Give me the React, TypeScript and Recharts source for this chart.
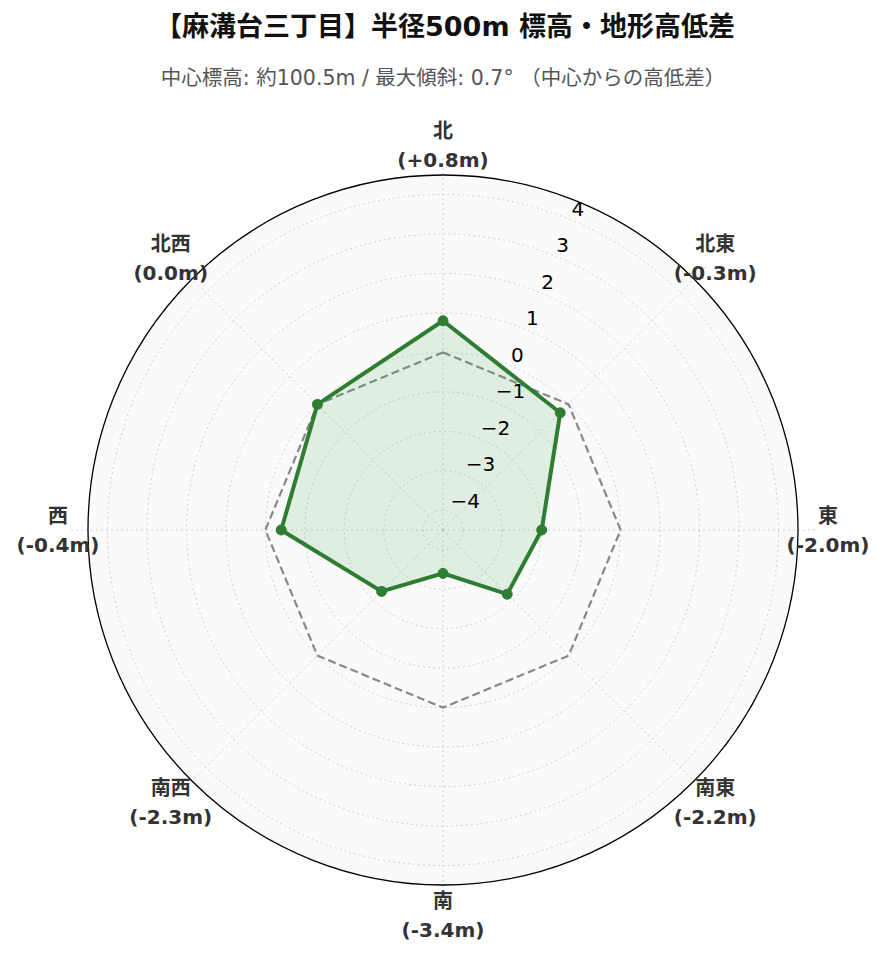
import React from 'react';
import { RadarChart, Radar, PolarGrid, PolarAngleAxis, PolarRadiusAxis } from 'recharts';

const directions = ['北', '北東', '東', '南東', '南', '南西', '西', '北西'];
const elevationDiff = [0.8, -0.3, -2.0, -2.2, -3.4, -2.3, -0.4, 0.0];
const zeroLine = [0, 0, 0, 0, 0, 0, 0, 0];
const radiusTicks = [-4, -3, -2, -1, 0, 1, 2, 3, 4];
const radiusDomain = [-4.5, 4.5];

const TITLE = '【麻溝台三丁目】半径500m 標高・地形高低差';
const SUBTITLE = '中心標高: 約100.5m / 最大傾斜: 0.7° （中心からの高低差）';

const data = directions.map((d, i) => ({ dir: d, diff: elevationDiff[i], zero: zeroLine[i] }));

const FONT = "'DejaVu Sans', 'Noto Sans CJK JP', sans-serif";
const W = 877;
const H = 954;
const CX = 435;
const CY = 522;
const R = 355;
const R_SCALE = 375;

const fmt = (v: number) => {
  if (v > 0) return `+${v.toFixed(1)}`;
  if (v === 0) return '0.0';
  return v.toFixed(1);
};

const AngleTick = (props: any) => {
  const { x, y, payload } = props;
  const idx = directions.indexOf(payload.value);
  const v = elevationDiff[idx];
  return (
    <g>
      <text x={x} y={y - 7} textAnchor="middle" fontFamily={FONT} fontSize={20} fontWeight="bold" fill="#333">
        {payload.value}
      </text>
      <text x={x} y={y + 22} textAnchor="middle" fontFamily={FONT} fontSize={20} fontWeight="bold" fill="#333">
        {`(${fmt(v)}m)`}
      </text>
    </g>
  );
};

const RadiusTick = (props: any) => {
  const { x, y, payload } = props;
  const v = payload.value as number;
  const label = v < 0 ? `\u2212${Math.abs(v)}` : `${v}`;
  return (
    <text x={x} y={y - 4} textAnchor="start" fontFamily={FONT} fontSize={20} fill="#000">
      {label}
    </text>
  );
};

export default function App() {
  return (
    <div style={{ position: 'relative', width: W, height: H, background: '#fff' }}>
      <div
        style={{
          position: 'absolute',
          left: CX - R,
          top: CY - R,
          width: R * 2,
          height: R * 2,
          borderRadius: '50%',
          background: '#fafafa',
        }}
      />
      <svg width={W} height={110} style={{ position: 'absolute', left: 0, top: 0 }}>
        <text x={437} y={28} textAnchor="middle" fontFamily={FONT} fontSize={27} fontWeight="bold" fill="#111">
          {TITLE}
        </text>
        <text x={435} y={77} textAnchor="middle" fontFamily={FONT} fontSize={20.5} fill="#555">
          {SUBTITLE}
        </text>
      </svg>
      <div style={{ position: 'absolute', left: 0, top: 0 }}>
        <RadarChart width={W} height={H} data={data} cx={CX} cy={CY} outerRadius={R_SCALE} margin={{ top: 0, right: 0, bottom: 0, left: 0 }}>
          <PolarGrid gridType="circle" radialLines={false} stroke="#d0d0d0" strokeDasharray="2 3" strokeWidth={1} />
          <PolarGrid gridType="circle" polarRadius={[]} outerRadius={R} radialLines stroke="#d0d0d0" strokeDasharray="2 3" strokeWidth={1} />
          <PolarGrid gridType="circle" polarRadius={[R]} outerRadius={R} radialLines={false} stroke="#000" strokeWidth={1.3} />
          <PolarAngleAxis dataKey="dir" tick={<AngleTick />} tickSize={385 - R_SCALE} tickLine={false} axisLine={false} />
          <PolarRadiusAxis
            angle={67.5}
            domain={radiusDomain}
            ticks={radiusTicks}
            type="number"
            allowDataOverflow
            tick={<RadiusTick />}
            tickLine={false}
            axisLine={false}
          />
          <Radar
            dataKey="zero"
            stroke="#888"
            strokeWidth={2.2}
            strokeDasharray="8 4"
            fill="none"
            fillOpacity={0}
            isAnimationActive={false}
          />
          <Radar
            dataKey="diff"
            stroke="#2e7d32"
            strokeWidth={4}
            fill="#4caf50"
            fillOpacity={0.15}
            dot={{ r: 5, fill: '#2e7d32', stroke: '#2e7d32', strokeWidth: 1, fillOpacity: 1 }}
            isAnimationActive={false}
          />
        </RadarChart>
      </div>
    </div>
  );
}
